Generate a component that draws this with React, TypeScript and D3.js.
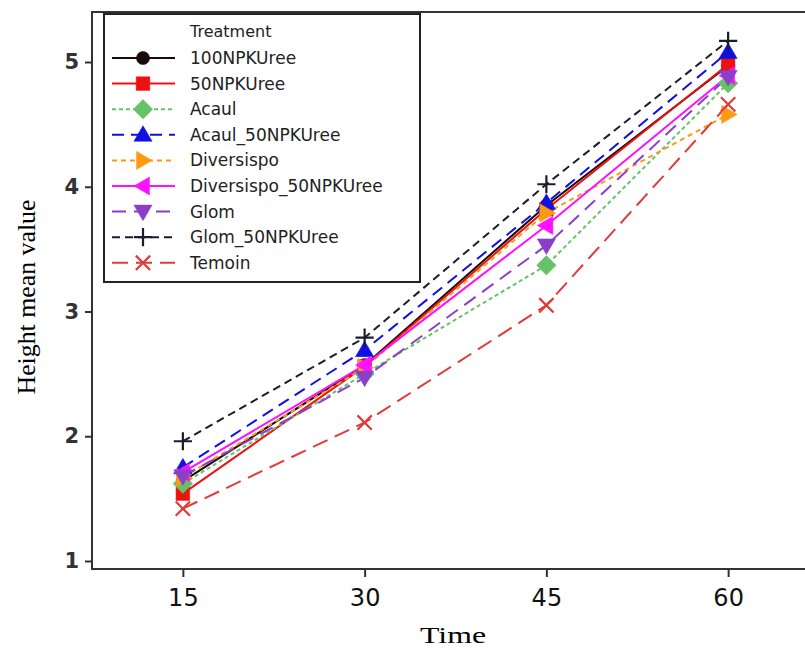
import React, { useEffect, useRef } from 'react'
import * as d3 from 'd3'

const times = [15, 30, 45, 60]
const yTicks = [1, 2, 3, 4, 5]

const treatments = [
  '100NPKUree',
  '50NPKUree',
  'Acaul',
  'Acaul_50NPKUree',
  'Diversispo',
  'Diversispo_50NPKUree',
  'Glom',
  'Glom_50NPKUree',
  'Temoin',
]

const v100NPKUree = [1.64, 2.57, 3.85, 4.97]
const v50NPKUree = [1.54, 2.56, 3.82, 4.98]
const vAcaul = [1.62, 2.5, 3.37, 4.83]
const vAcaul50 = [1.75, 2.69, 3.87, 5.08]
const vDiversispo = [1.67, 2.55, 3.79, 4.58]
const vDiversispo50 = [1.71, 2.57, 3.69, 4.89]
const vGlom = [1.68, 2.47, 3.53, 4.88]
const vGlom50 = [1.96, 2.79, 4.02, 5.17]
const vTemoin = [1.42, 2.11, 3.05, 4.66]

const seriesValues = [
  v100NPKUree, v50NPKUree, vAcaul, vAcaul50, vDiversispo,
  vDiversispo50, vGlom, vGlom50, vTemoin,
]

const colors = ['#1a0a0a', '#ee1111', '#66c266', '#1010e0', '#ff9a10', '#ff10ff', '#8a3fc8', '#1c1c30', '#e03a3a']
const dashes = ['', '', '4,3', '12,7', '5,4', '', '14,8', '8,5', '16,8']
const symbols = ['circle', 'square', 'diamond', 'up', 'right', 'left', 'down', 'plus', 'cross']

function markerPath(kind: string, s: number): string {
  switch (kind) {
    case 'circle': return d3.symbol(d3.symbolCircle, s * s * 0.8)() as string
    case 'square': return d3.symbol(d3.symbolSquare, s * s * 1.1)() as string
    case 'diamond': return `M0,${-s * 0.75}L${s * 0.75},0L0,${s * 0.75}L${-s * 0.75},0Z`
    case 'up': return `M0,${-s * 0.7}L${s * 0.7},${s * 0.5}L${-s * 0.7},${s * 0.5}Z`
    case 'down': return `M0,${s * 0.7}L${s * 0.7},${-s * 0.5}L${-s * 0.7},${-s * 0.5}Z`
    case 'right': return `M${s * 0.7},0L${-s * 0.5},${-s * 0.7}L${-s * 0.5},${s * 0.7}Z`
    case 'left': return `M${-s * 0.7},0L${s * 0.5},${-s * 0.7}L${s * 0.5},${s * 0.7}Z`
    case 'plus': return `M0,${-s * 0.7}V${s * 0.7}M${-s * 0.7},0H${s * 0.7}`
    default: return `M${-s * 0.55},${-s * 0.55}L${s * 0.55},${s * 0.55}M${s * 0.55},${-s * 0.55}L${-s * 0.55},${s * 0.55}`
  }
}

const App = () => {
  const ref = useRef<SVGSVGElement>(null)

  useEffect(() => {
    const svg = d3.select(ref.current)
    svg.selectAll('*').remove()

    const left = 92
    const top = 12
    const bottom = 569
    const right = 818

    const x = d3.scaleLinear().domain([7.5, 67.5]).range([left, 818 + 1])
    const y = d3.scaleLinear().domain([1, 5]).range([561, 62])

    const g = svg.append('g')

    // frame
    g.append('path')
      .attr('d', `M${right},${top}H${left}V${bottom}H${right}`)
      .attr('fill', 'none')
      .attr('stroke', '#333')
      .attr('stroke-width', 2)

    const yAxis = d3.axisLeft(y).tickValues(yTicks).tickSize(7).tickPadding(6).tickFormat(d3.format('d'))
    g.append('g')
      .attr('transform', `translate(${left},0)`)
      .call(yAxis)
      .call((a) => a.select('.domain').remove())
      .call((a) => a.selectAll('.tick line').attr('stroke', '#333').attr('stroke-width', 2))
      .call((a) => a.selectAll('.tick text')
        .attr('font-family', 'Verdana, "DejaVu Sans", sans-serif')
        .attr('font-size', 21)
        .attr('font-weight', 'bold')
        .attr('fill', '#333'))

    const xAxis = d3.axisBottom(x).tickValues(times).tickSize(8).tickPadding(12).tickFormat(d3.format('d'))
    g.append('g')
      .attr('transform', `translate(0,${bottom})`)
      .call(xAxis)
      .call((a) => a.select('.domain').remove())
      .call((a) => a.selectAll('.tick line').attr('stroke', '#333').attr('stroke-width', 2))
      .call((a) => a.selectAll('.tick text')
        .attr('font-family', 'Verdana, "DejaVu Sans", sans-serif')
        .attr('font-size', 24)
        .attr('fill', '#111'))

    g.append('text')
      .attr('x', 453)
      .attr('y', 643)
      .attr('text-anchor', 'middle')
      .attr('font-family', '"Liberation Serif", "Times New Roman", serif')
      .attr('font-size', 24)
      .attr('textLength', 66)
      .attr('lengthAdjust', 'spacingAndGlyphs')
      .text('Time')

    g.append('text')
      .attr('transform', 'translate(35,297) rotate(-90)')
      .attr('text-anchor', 'middle')
      .attr('font-family', '"Liberation Serif", "Times New Roman", serif')
      .attr('font-size', 25)
      .attr('textLength', 195)
      .attr('lengthAdjust', 'spacingAndGlyphs')
      .text('Height mean value')

    const line = d3.line<number>()
      .x((_, i) => x(times[i]))
      .y((d) => y(d))

    seriesValues.forEach((vals, k) => {
      g.append('path')
        .attr('d', line(vals) as string)
        .attr('fill', 'none')
        .attr('stroke', colors[k])
        .attr('stroke-width', 2)
        .attr('stroke-dasharray', dashes[k] || null)
    })

    seriesValues.forEach((vals, k) => {
      const open = symbols[k] === 'plus' || symbols[k] === 'cross'
      g.selectAll(null)
        .data(vals)
        .enter()
        .append('path')
        .attr('transform', (d, i) => `translate(${x(times[i])},${y(d)})`)
        .attr('d', markerPath(symbols[k], 13))
        .attr('fill', open ? 'none' : colors[k])
        .attr('stroke', colors[k])
        .attr('stroke-width', open ? 2.2 : 0.5)
    })

    // legend
    const lg = g.append('g')
    lg.append('rect')
      .attr('x', 104).attr('y', 14).attr('width', 316).attr('height', 268)
      .attr('fill', '#fff').attr('stroke', '#222').attr('stroke-width', 2)
    lg.append('text')
      .attr('x', 190).attr('y', 37)
      .attr('font-family', 'Verdana, "DejaVu Sans", sans-serif')
      .attr('font-size', 16)
      .attr('fill', '#222')
      .text('Treatment')

    treatments.forEach((name, k) => {
      const cy = 58 + k * 25.6
      lg.append('path')
        .attr('d', `M112,${cy}H175`)
        .attr('stroke', colors[k])
        .attr('stroke-width', 2)
        .attr('stroke-dasharray', dashes[k] || null)
      const open = symbols[k] === 'plus' || symbols[k] === 'cross'
      lg.append('path')
        .attr('transform', `translate(143,${cy})`)
        .attr('d', markerPath(symbols[k], 13))
        .attr('fill', open ? 'none' : colors[k])
        .attr('stroke', colors[k])
        .attr('stroke-width', open ? 2.2 : 0.5)
      lg.append('text')
        .attr('x', 190).attr('y', cy + 6)
        .attr('font-family', 'Verdana, "DejaVu Sans", sans-serif')
        .attr('font-size', 17)
        .attr('fill', '#222')
        .text(name)
    })
  }, [])

  return (
    <svg ref={ref} width={805} height={650} style={{ position: 'absolute', left: 0, top: 0, background: '#fff' }} />
  )
}

export default App
